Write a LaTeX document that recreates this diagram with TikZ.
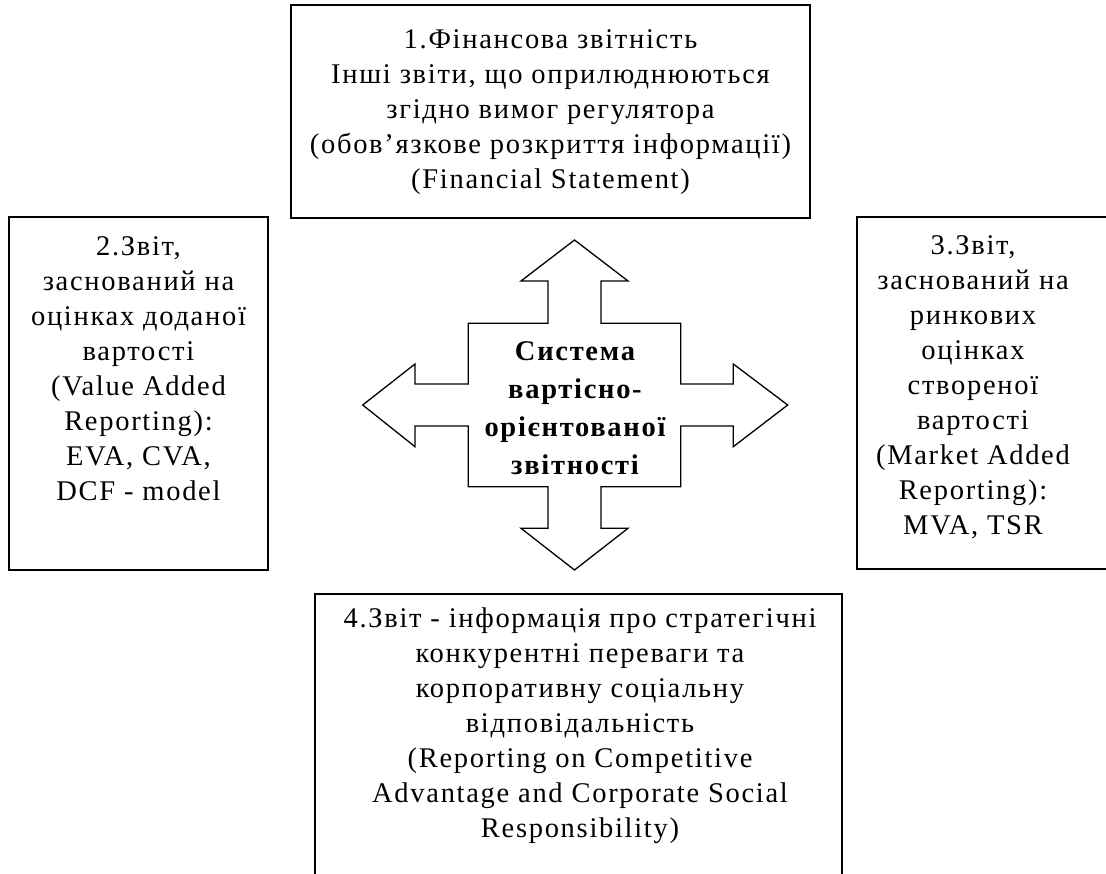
\documentclass[tikz,border=0pt]{standalone}
\usepackage{fontspec}
\setmainfont{Liberation Serif}[LetterSpace=6]
\begin{document}
\begin{tikzpicture}[x=1pt,y=-1pt,
  frame/.style={draw=black,line width=1.6pt,inner sep=0pt,outer sep=0pt},
  txt/.style={align=center,inner sep=0pt,font=\fontsize{28.5}{35}\selectfont},
  ctxt/.style={align=center,inner sep=0pt,font=\fontsize{28.5}{38}\selectfont\bfseries},
  bigarrow/.style={draw=black,line width=1.3pt,line join=miter,fill=white}]
\useasboundingbox (0,0) rectangle (1106,874);
\clip (0,0) rectangle (1106,874);
\fill[white] (0,0) rectangle (1106,874);
% boxes
\node[frame,minimum width=519pt,minimum height=213pt] (b1) at (550.5,111.5) {};
\node[frame,minimum width=259pt,minimum height=353pt] (b2) at (138.5,393.5) {};
\node[frame,minimum width=263pt,minimum height=352pt] (b3) at (988.5,393) {};
\node[frame,minimum width=527pt,minimum height=296pt] (b4) at (578.5,742) {};
% texts
\node[txt] (t1) at (550.5,112) {1.Фінансова звітність\\Інші звіти, що оприлюднюються\\згідно вимог регулятора\\(обов’язкове розкриття інформації)\\(Financial Statement)};
\node[txt] (t2) at (138.5,369) {2.Звіт,\\заснований на\\оцінках доданої\\вартості\\(Value Added\\Reporting):\\EVA, CVA,\\DCF - model};
\node[txt] (t3) at (973,387) {3.Звіт,\\заснований на\\ринкових\\оцінках\\створеної\\вартості\\(Market Added\\Reporting):\\MVA, TSR};
\node[txt] (t4) at (580,726) {4.Звіт - інформація про стратегічні\\конкурентні переваги та\\корпоративну соціальну\\відповідальність\\(Reporting on Competitive\\Advantage and Corporate Social\\Responsibility)};
% central four-way arrow
\draw[bigarrow] (574.5,240) -- (628,281) -- (601,281) -- (601,323.3) -- (680.7,323.3) -- (680.7,384) -- (733.3,384) -- (733.3,364) -- (787.7,405) -- (733.3,446.7) -- (733.3,426) -- (680.7,426) -- (680.7,486.7) -- (601,486.7) -- (601,528.3) -- (628,528.3) -- (574.5,570) -- (521,528.3) -- (548,528.3) -- (548,486.7) -- (468.3,486.7) -- (468.3,426) -- (415,426) -- (415,446.7) -- (362.7,405) -- (415,364) -- (415,384) -- (468.3,384) -- (468.3,323.3) -- (548,323.3) -- (548,281) -- (521,281) -- cycle;
\node[ctxt] (c) at (575,408) {Система\\вартісно-\\орієнтованої\\звітності};
\end{tikzpicture}
\end{document}
